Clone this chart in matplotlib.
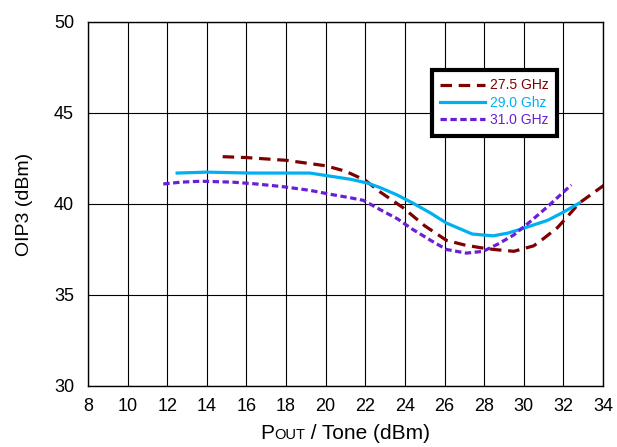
import matplotlib
matplotlib.use("Agg")
from matplotlib import pyplot as plt
from matplotlib.offsetbox import TextArea, HPacker, AnchoredOffsetbox

plt.rcParams['font.family'] = ['Liberation Sans', 'DejaVu Sans']

# 27.5 GHz
x_275 = [14.8, 16, 18, 20, 21, 22, 22.75, 23.9, 25, 26.1, 27, 27.8, 28.5, 29.5, 30.5, 31, 31.7, 32.2, 32.8, 33.5, 34.2]
y_275 = [42.6, 42.55, 42.4, 42.1, 41.8, 41.3, 40.66, 39.8, 38.8, 38.0, 37.75, 37.6, 37.5, 37.4, 37.7, 38.1, 38.7, 39.3, 40.05, 40.6, 41.15]

# 29.0 GHz
x_290 = [12.5, 14, 16.2, 18, 19.2, 20.4, 21.3, 22.1, 22.75, 23.6, 24.4, 25.3, 26.1, 27.4, 28.45, 29.2, 29.8, 30.5, 31.2, 32.0, 32.8]
y_290 = [41.7, 41.75, 41.7, 41.7, 41.7, 41.5, 41.35, 41.15, 40.9, 40.5, 40.05, 39.5, 38.95, 38.35, 38.25, 38.4, 38.6, 38.85, 39.1, 39.55, 40.05]

# 31.0 GHz
x_310 = [11.8, 12.7, 13.7, 15.3, 16.5, 17.85, 19.2, 20.4, 21.2, 21.9, 22.9, 23.6, 24.4, 25.3, 26.1, 27.1, 27.95, 28.7, 29.5, 30.4, 31.2, 31.8, 32.4]
y_310 = [41.1, 41.2, 41.25, 41.2, 41.1, 40.95, 40.75, 40.5, 40.35, 40.2, 39.6, 39.2, 38.6, 38.0, 37.5, 37.3, 37.4, 37.8, 38.3, 39.1, 39.85, 40.45, 41.05]

fig = plt.figure(figsize=(6.17, 4.47), dpi=100)
ax = fig.add_axes([0.1426, 0.1365, 0.8347, 0.8143])

ax.plot(x_275, y_275, color="#7f0000", lw=2.3, dashes=(3.6, 2.1), label="27.5 GHz")
ax.plot(x_290, y_290, color="#00b0f0", lw=2.3, label="29.0 Ghz")
ax.plot(x_310, y_310, color="#6a1fd6", lw=2.3, dashes=(2.0, 1.1), label="31.0 GHz")

ax.set_xlim(8, 34)
ax.set_ylim(30, 50)
ax.set_xticks(range(8, 35, 2))
ax.set_yticks(range(30, 51, 5))
ax.grid(True, color="black", lw=0.8)
ax.tick_params(length=0, labelsize=13)
ax.tick_params(axis="x", pad=9)
ax.tick_params(axis="y", pad=10)
for s in ax.spines.values():
    s.set_linewidth(1.0)

ax.set_ylabel("OIP3 (dBm)", fontsize=14)
ax.yaxis.set_label_coords(-0.106, 0.5)

# x label with small caps "OUT"
parts = [TextArea("P", textprops=dict(fontsize=15)),
         TextArea("OUT", textprops=dict(fontsize=10.5)),
         TextArea(" / Tone (dBm)", textprops=dict(fontsize=15))]
box = HPacker(children=parts, align="baseline", pad=0, sep=0)
anch = AnchoredOffsetbox(loc="upper center", child=box, pad=0, frameon=False,
                         bbox_to_anchor=(0.5, -0.105), bbox_transform=ax.transAxes,
                         borderpad=0)
ax.add_artist(anch)

leg = ax.legend(loc="upper left", bbox_to_anchor=(0.668, 0.868), fontsize=10,
                frameon=True, fancybox=False, shadow=False, framealpha=1,
                handlelength=3.2, borderpad=0.6, labelspacing=0.25,
                handletextpad=0.4, borderaxespad=0)
leg.get_frame().set_edgecolor("black")
leg.get_frame().set_linewidth(3)
for t, l in zip(leg.get_texts(), leg.get_lines()):
    t.set_color(l.get_color())

fig.savefig("out.png", dpi=100)
